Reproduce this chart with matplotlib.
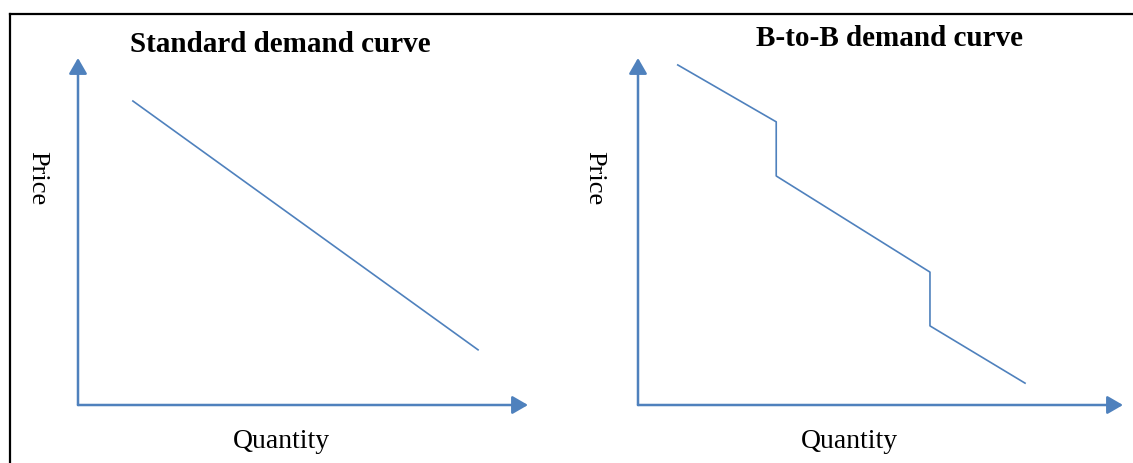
import matplotlib.pyplot as plt
from matplotlib.lines import Line2D

# data (quantity, price) in arbitrary 0-10 units
std_qty = [1.22, 8.89]
std_price = [8.76, 1.59]

b2b_qty = [0.82, 2.85, 2.85, 6.02, 6.02, 7.98]
b2b_price = [9.80, 8.16, 6.60, 3.83, 2.28, 0.63]

titles = ['Standard demand curve', 'B-to-B demand curve']

W, H = 1133, 463
blue = '#4F81BD'
plt.rcParams['font.family'] = ['Liberation Serif', 'DejaVu Serif']

fig = plt.figure(figsize=(W / 100, H / 100), dpi=100)


def px_axes(x0, y0, x1, y1):
    # pixel box -> figure fraction
    return fig.add_axes([x0 / W, 1 - y0 / H, (x1 - x0) / W, (y0 - y1) / H])


def draw_axes(ax):
    ax.set_xlim(0, 10)
    ax.set_ylim(0, 10)
    ax.axis('off')
    style = '-|>,head_length=9.5,head_width=5.5'
    for xy in [(1, 0), (0, 1)]:
        ax.annotate('', xy=xy, xytext=(0, 0), xycoords='axes fraction',
                    arrowprops=dict(arrowstyle=style, mutation_scale=1, lw=1.8,
                                    color=blue, shrinkA=0, shrinkB=0))


ax1 = px_axes(78, 405, 528, 58)
draw_axes(ax1)
ax1.plot(std_qty, std_price, color=blue, lw=1.2)

ax2 = px_axes(638, 405, 1123, 58)
draw_axes(ax2)
ax2.plot(b2b_qty, b2b_price, color=blue, lw=1.2)

# titles and labels
fig.text(280 / W, 1 - 45 / H, titles[0], ha='center', va='center',
         fontsize=21, fontweight='bold')
fig.text(889 / W, 1 - 38 / H, titles[1], ha='center', va='center',
         fontsize=21, fontweight='bold')
for x in [37, 594]:
    fig.text(x / W, 1 - 178 / H, 'Price', ha='center', va='center',
             rotation=-90, fontsize=19)
for x in [281, 849]:
    fig.text(x / W, 1 - 441 / H, 'Quantity', ha='center', va='center',
             fontsize=20)

# frame round the picture
fig.add_artist(Line2D([10 / W, 10 / W], [0, 1 - 14 / H], color='black', lw=1.6))
fig.add_artist(Line2D([10 / W, 1], [1 - 14 / H, 1 - 14 / H], color='black', lw=1.6))

fig.savefig('out.png', dpi=100)
